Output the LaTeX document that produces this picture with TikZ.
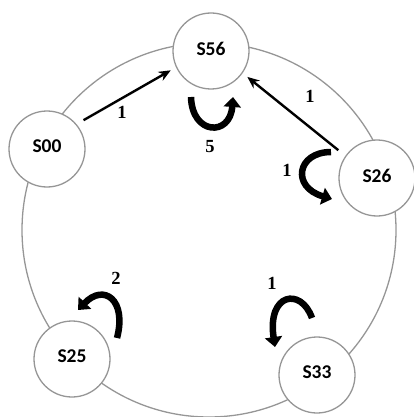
\documentclass[tikz,border=0pt]{standalone}
\usepackage{fontspec}
\setmainfont{Liberation Serif}
\newfontfamily\statefont{Carlito}
\usetikzlibrary{arrows.meta}
\definecolor{ringgray}{RGB}{150,150,150}
\tikzset{
  state/.style={circle, draw=ringgray, line width=1.3pt, fill=white,
    minimum size=76pt, inner sep=0pt,
    font=\statefont\bfseries\fontsize{19.5}{19.5}\selectfont},
  transfer/.style={line width=2.4pt, -{Stealth[length=12pt,width=10pt]}},
  stayloop/.style={line width=6.5pt, -{Triangle[length=10pt,width=17pt]}},
  weight/.style={font=\bfseries\fontsize{18.5}{18.5}\selectfont, inner sep=0pt}
}
\begin{document}
\begin{tikzpicture}[x=1pt, y=-1pt]
\useasboundingbox (0,0) rectangle (414,417);
% ring carrying the five states
\draw[ringgray, line width=1.3pt] (209,230) circle (187);
% states
\node[state] (s56) at (211,51)  {\raisebox{5pt}{S56}};
\node[state] (s00) at (47,149)  {\raisebox{5pt}{S00}};
\node[state] (s26) at (377,178) {\raisebox{5pt}{S26}};
\node[state] (s25) at (72,359)  {\raisebox{5pt}{S25}};
\node[state] (s33) at (317,375) {\raisebox{5pt}{S33}};
% transfers towards S56
\draw[transfer, shorten <=8pt, shorten >=6pt] (s00.40) -- (s56.205);
\draw[transfer, shorten <=9pt, shorten >=6pt] (s26.145) -- (s56.325);
\node[weight] (w1) at (122,112) {1};
\node[weight] (w2) at (310,96) {1};
% staying in place
\coordinate (a1) at (191,97);  \coordinate (b1) at (233,97);
\draw[stayloop] (a1) .. controls (192,135) and (230,137) .. (b1);
\node[weight] (w3) at (210,147) {5};
\coordinate (a2) at (331,152); \coordinate (b2) at (332,199);
\draw[stayloop] (a2) .. controls (297,152) and (291,187) .. (b2);
\node[weight] (w4) at (287,170) {1};
\coordinate (a3) at (117,338); \coordinate (b3) at (78,310);
\draw[stayloop] (a3) .. controls (127,300) and (104,283) .. (b3);
\node[weight] (w5) at (116,278) {2};
\coordinate (a4) at (312,318); \coordinate (b4) at (275,347);
\draw[stayloop] (a4) .. controls (301,287) and (267,293) .. (b4);
\node[weight] (w6) at (272,283) {1};
\end{tikzpicture}
\end{document}
